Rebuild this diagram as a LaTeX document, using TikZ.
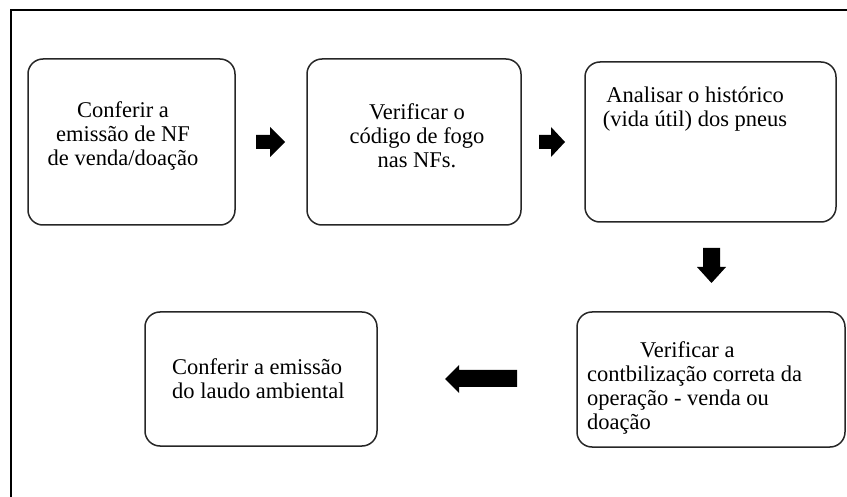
\documentclass[tikz,border=0pt]{standalone}
\usepackage{fontspec}
\setmainfont{Liberation Serif}
\begin{document}
\begin{tikzpicture}[x=1pt,y=-1pt,
  box/.style={draw=black!85,line width=1.5pt,rounded corners=15pt,inner sep=0pt},
  txt/.style={font=\fontsize{22.5}{24}\selectfont,inner sep=0pt},
  blk/.style={fill=black,draw=none}]
\useasboundingbox (0,0) rectangle (847,497);
\draw[line width=2.5pt] (11,497) -- (11,10) -- (847,10);
% boxes
\draw[box] (28,59) rectangle (235,225);
\draw[box] (307,59) rectangle (521,225);
\draw[box] (585,62) rectangle (836,222);
\draw[box] (577,312) rectangle (845,447);
\draw[box] (145,312) rectangle (377,446);
% texts
\node[txt,align=center] (t1) at (123,136) {Conferir a\\emissão de NF\\de venda/doação};
\node[txt,align=center] (t2) at (417,136) {Verificar o\\código de fogo\\nas NFs.};
\node[txt,align=center] (t3) at (695,109) {Analisar o histórico\\(vida útil) dos pneus};
\node[txt,align=left,anchor=west] (t4) at (587,388) {\hspace*{53pt}Verificar a\\contbilização correta da\\operação - venda ou\\doação};
\node[txt,align=left,anchor=west] (t5) at (172,379) {Conferir a emissão\\do laudo ambiental};
% block arrows
\fill[blk] (256,135) -- (270,135) -- (270,127) -- (285,142) -- (270,157) -- (270,149) -- (256,149) -- cycle;
\fill[blk] (539,135) -- (551,135) -- (551,127) -- (565,142) -- (551,157) -- (551,149) -- (539,149) -- cycle;
\fill[blk] (703,248) -- (720,248) -- (720,267) -- (726,267) -- (711.5,283) -- (697,267) -- (703,267) -- cycle;
\fill[blk] (517,370) -- (459,370) -- (459,365) -- (445,379) -- (459,393) -- (459,387) -- (517,387) -- cycle;
\end{tikzpicture}
\end{document}
